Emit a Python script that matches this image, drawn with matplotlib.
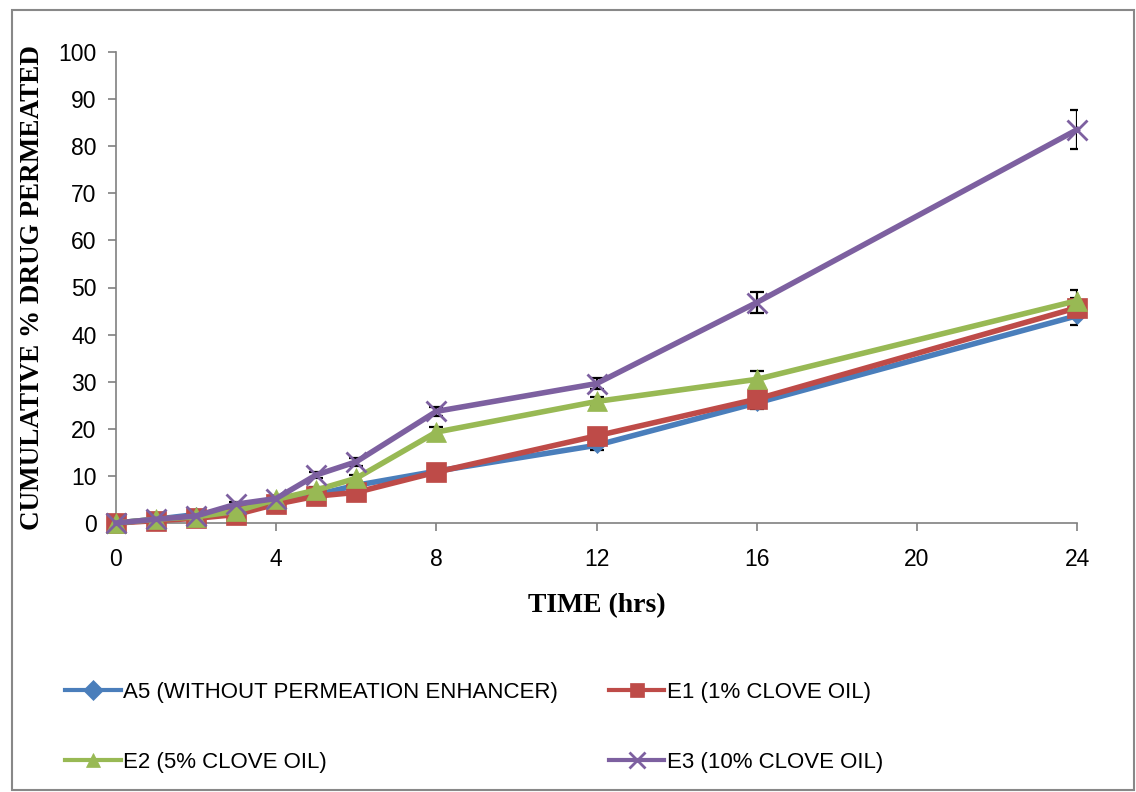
import matplotlib
matplotlib.use("Agg")
import matplotlib.pyplot as plt
from matplotlib.lines import Line2D
from matplotlib.patches import Rectangle

# data
time_hrs = [0, 1, 2, 3, 4, 5, 6, 8, 12, 16, 24]
a5 = [0, 0.8, 1.8, 3.0, 4.5, 6.0, 8.0, 11.0, 16.5, 25.5, 44.0]
e1 = [0, 0.5, 1.0, 1.8, 4.0, 5.7, 6.5, 10.8, 18.5, 26.3, 45.7]
e2 = [0, 0.8, 1.3, 2.5, 5.0, 7.0, 9.5, 19.3, 25.8, 30.5, 47.2]
e3 = [0, 0.8, 1.5, 4.0, 5.2, 10.2, 13.0, 23.7, 29.6, 46.8, 83.5]
a5_err = [0, 0.3, 0.4, 0.4, 0.5, 0.5, 0.6, 0.8, 1.0, 1.2, 2.0]
e1_err = [0, 0.3, 0.3, 0.4, 0.5, 0.5, 0.6, 0.8, 1.0, 1.2, 2.0]
e2_err = [0, 0.3, 0.3, 0.4, 0.5, 0.6, 0.7, 1.0, 1.0, 1.8, 2.3]
e3_err = [0, 0.3, 0.4, 0.5, 0.5, 0.7, 0.8, 1.0, 1.2, 2.3, 4.2]
labels = ["A5 (WITHOUT PERMEATION ENHANCER)", "E1 (1% CLOVE OIL)",
          "E2 (5% CLOVE OIL)", "E3 (10% CLOVE OIL)"]
colors = ["#4a7ebb", "#be4b48", "#98b954", "#7d60a0"]
markers = ["D", "s", "^", "x"]
msizes = [8, 14, 15, 14]

plt.rcParams['font.family'] = ['Liberation Sans', 'DejaVu Sans']

fig = plt.figure(figsize=(11.36, 7.92), dpi=100)
ax = fig.add_axes([116 / 1136, 1 - 523 / 792, (1077 - 116) / 1136, (523 - 52) / 792])

series = [a5, e1, e2, e3]
errs = [a5_err, e1_err, e2_err, e3_err]
handles = []
for ys, er, c, m, ms, lab in zip(series, errs, colors, markers, msizes, labels):
    ax.errorbar(time_hrs, ys, yerr=er, fmt='none', ecolor='black',
                elinewidth=1.6, capsize=5, capthick=1.6, zorder=2)
    ax.plot(time_hrs, ys, color=c, lw=4, marker=m, markersize=ms,
            markeredgewidth=2 if m == 'x' else 0.5, markeredgecolor=c,
            zorder=3, clip_on=False)
    handles.append(Line2D([], [], color=c, lw=3, marker=m,
                          markersize=10 if m != 'x' else 12,
                          markeredgewidth=2 if m == 'x' else 0.5, label=lab))

ax.set_xlim(0, 24)
ax.set_ylim(0, 100)
ax.set_xticks([0, 4, 8, 12, 16, 20, 24])
ax.set_yticks(range(0, 101, 10))
ax.tick_params(labelsize=16.5, colors='#808080', labelcolor='black',
               length=6, width=1.2, direction='out')
ax.tick_params(axis='x', pad=12)
ax.tick_params(axis='y', pad=8)
for s in ['top', 'right']:
    ax.spines[s].set_visible(False)
for s in ['left', 'bottom']:
    ax.spines[s].set_color('#808080')
    ax.spines[s].set_linewidth(1.2)

ax.set_xlabel("TIME (hrs)", family='Liberation Serif', fontweight='bold',
              fontsize=20, labelpad=16)
fig.text(33 / 1136, 1 - 287 / 792, "CUMULATIVE % DRUG PERMEATED",
         family='Liberation Serif', fontweight='bold', fontsize=19.5,
         rotation=90, ha='center', va='center')

# legend fills by column, so order handles to get A5,E1 / E2,E3 rows
order = [0, 2, 1, 3]
fig.legend(handles=[handles[i] for i in order], ncol=2, loc='upper left',
           bbox_to_anchor=(45 / 1136, 1 - 662 / 792), frameon=False,
           fontsize=16, handlelength=2.5, columnspacing=2.3,
           labelspacing=2.2, handletextpad=0.1)

fig.patches.append(Rectangle((12 / 1136, 0.002), 1 - 14 / 1136, 1 - 12 / 792,
                             transform=fig.transFigure, fill=False,
                             edgecolor='#888888', lw=1.5))

fig.savefig("out.png", dpi=100)
